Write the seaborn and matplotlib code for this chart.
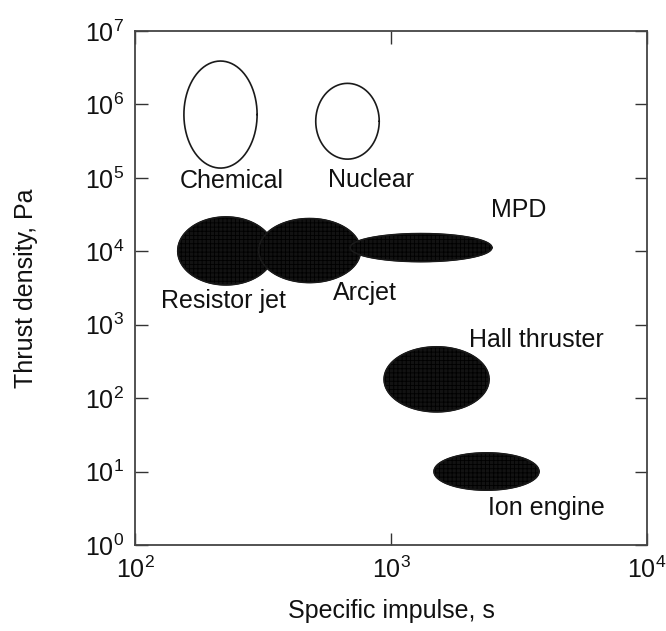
import numpy as np
import pandas as pd
import matplotlib
matplotlib.use("Agg")
import matplotlib.pyplot as plt
import seaborn as sns
from matplotlib.ticker import LogLocator, NullLocator

# Thruster regions: centre and half-extent in decades (log10 space)
names = ["Chemical", "Nuclear", "Resistor jet", "Arcjet", "MPD", "Hall thruster", "Ion engine"]
log_isp_center = [2.334, 2.830, 2.355, 2.682, 3.117, 3.178, 3.373]
log_isp_half = [0.143, 0.124, 0.188, 0.199, 0.277, 0.205, 0.205]
log_thrust_center = [5.862, 5.771, 4.005, 4.010, 4.050, 2.256, 1.001]
log_thrust_half = [0.729, 0.516, 0.463, 0.436, 0.191, 0.443, 0.254]
filled = [False, False, True, True, True, True, True]

# Label anchor positions (Isp, thrust density)
label_isp = [239, 835, 221, 791, 3162, 3681, 4027]
label_thrust = [9.0e4, 9.3e4, 2.1e3, 2.69e3, 3.64e4, 617, 3.17]

sns.set_style("ticks")
plt.rcParams["font.family"] = ["Liberation Sans", "DejaVu Sans"]
plt.rcParams["mathtext.fontset"] = "custom"
plt.rcParams["mathtext.rm"] = "Liberation Sans"
plt.rcParams["mathtext.it"] = "Liberation Sans"
plt.rcParams["hatch.color"] = "#2e2e2e"
plt.rcParams["hatch.linewidth"] = 0.6

fig = plt.figure(figsize=(6.66, 6.31), dpi=100)
ax = fig.add_axes([135 / 666, 1 - 545 / 631, 512 / 666, 514 / 631])
ax.set_xscale("log")
ax.set_yscale("log")

t = np.linspace(0, 2 * np.pi, 240)
for k, i in enumerate(range(len(names))):
    lx = log_isp_center[i] + log_isp_half[i] * np.cos(t)
    ly = log_thrust_center[i] + log_thrust_half[i] * np.sin(t)
    df = pd.DataFrame({"x": 10 ** lx, "y": 10 ** ly})
    z = 2 + 2 * k
    if filled[i]:
        ax.fill(df["x"], df["y"], facecolor="#121212", edgecolor="#000000", lw=0.8,
                hatch="++++", zorder=z)
    sns.lineplot(data=df, x="x", y="y", sort=False, estimator=None, ax=ax,
                 color="#1a1a1a", lw=1.2, zorder=z + 1)

for i, n in enumerate(names):
    ax.text(label_isp[i], label_thrust[i], n, fontsize=18, ha="center", va="center",
            color="#111111", zorder=50)

ax.set_xlim(1e2, 1e4)
ax.set_ylim(1e0, 1e7)
ax.xaxis.set_major_locator(LogLocator(base=10, numticks=10))
ax.yaxis.set_major_locator(LogLocator(base=10, numticks=10))
ax.xaxis.set_minor_locator(NullLocator())
ax.yaxis.set_minor_locator(NullLocator())
ax.tick_params(axis="both", which="major", direction="in", length=9, width=1.0,
               color="#333333", labelsize=18, labelcolor="#111111",
               top=True, right=True, pad=8)
ax.xaxis.offsetText.set_visible(False)
ax.yaxis.offsetText.set_visible(False)
for s in ax.spines.values():
    s.set_visible(True)
    s.set_linewidth(1.3)
    s.set_color("#444444")
    s.set_zorder(60)

ax.set_xlabel("Specific impulse, s", fontsize=18, color="#111111", va="center")
ax.xaxis.set_label_coords(0.5, -(611 - 545) / 514)
ax.set_ylabel("Thrust density, Pa", fontsize=18, color="#111111", va="center")
ax.yaxis.set_label_coords(-(135 - 26) / 512, 1 - (288 - 31) / 514)

fig.savefig("out.png", dpi=100)
